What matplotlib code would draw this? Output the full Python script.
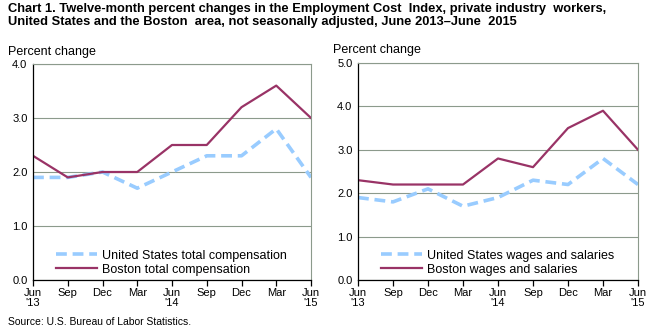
import matplotlib
matplotlib.use('Agg')
import matplotlib.pyplot as plt

plt.rcParams['font.family'] = ['Liberation Sans', 'DejaVu Sans']

# --- data ---
months = ['Jun\n\'13', 'Sep', 'Dec', 'Mar', 'Jun\n\'14', 'Sep', 'Dec', 'Mar', 'Jun\n\'15']
us_total = [1.9, 1.9, 2.0, 1.7, 2.0, 2.3, 2.3, 2.8, 1.9]
boston_total = [2.3, 1.9, 2.0, 2.0, 2.5, 2.5, 3.2, 3.6, 3.0]
us_wages = [1.9, 1.8, 2.1, 1.7, 1.9, 2.3, 2.2, 2.8, 2.2]
boston_wages = [2.3, 2.2, 2.2, 2.2, 2.8, 2.6, 3.5, 3.9, 3.0]

US_COLOR = '#99CCFF'
BOS_COLOR = '#993366'
W, H = 650, 333

fig = plt.figure(figsize=(6.5, 3.33), dpi=100)
fig.text(8 / W, 1 - 3 / H,
         'Chart 1. Twelve-month percent changes in the Employment Cost  Index, private industry  workers,\n'
         'United States and the Boston  area, not seasonally adjusted, June 2013\u2013June  2015',
         fontsize=9.3, fontweight='bold', va='top', ha='left', linespacing=1.15)


def make_panel(rect, us, bos, ymax, us_label, bos_label):
    ax = fig.add_axes(rect)
    x = list(range(len(months)))
    ax.plot(x, us, color=US_COLOR, lw=2.6, ls=(0, (3, 1.6)), label=us_label)
    ax.plot(x, bos, color=BOS_COLOR, lw=1.6, label=bos_label)
    ax.set_xlim(0, len(months) - 1)
    ax.set_ylim(0, ymax)
    ax.set_yticks([i * 1.0 for i in range(int(ymax) + 1)])
    ax.set_yticklabels(['%.1f' % (i * 1.0) for i in range(int(ymax) + 1)])
    ax.set_xticks(x)
    ax.set_xticklabels(months)
    ax.grid(axis='y', color='#8c9a8c', lw=0.8)
    ax.set_axisbelow(True)
    for s in ['top', 'right']:
        ax.spines[s].set_color('#8c9a8c')
        ax.spines[s].set_linewidth(0.8)
    for s in ['left', 'bottom']:
        ax.spines[s].set_color('black')
        ax.spines[s].set_linewidth(0.9)
    ax.tick_params(axis='y', length=0, labelsize=8, pad=4)
    ax.tick_params(axis='x', direction='out', length=4, width=0.9, labelsize=8, pad=2)
    for lbl in ax.get_xticklabels():
        lbl.set_linespacing(1.0)
    ax.legend(loc='lower left', bbox_to_anchor=(0.05, -0.02), frameon=False,
              fontsize=9, handlelength=3.3, borderaxespad=0.3, labelspacing=0.15,
              handletextpad=0.4)
    ax.text(-0.09, 1.03, 'Percent change', transform=ax.transAxes, fontsize=9,
            ha='left', va='bottom')
    return ax


def rect(l, t, r, b):
    return [l / W, 1 - b / H, (r - l) / W, (b - t) / H]


make_panel(rect(33, 64, 311, 280), us_total, boston_total, 4.0,
           'United States total compensation', 'Boston total compensation')
make_panel(rect(358, 63, 638, 280), us_wages, boston_wages, 5.0,
           'United States wages and salaries', 'Boston wages and salaries')

fig.text(8 / W, 1 - 327 / H, 'Source: U.S. Bureau of Labor Statistics.', fontsize=7.5,
         ha='left', va='bottom')

plt.savefig('out.png', dpi=100)
plt.close(fig)
